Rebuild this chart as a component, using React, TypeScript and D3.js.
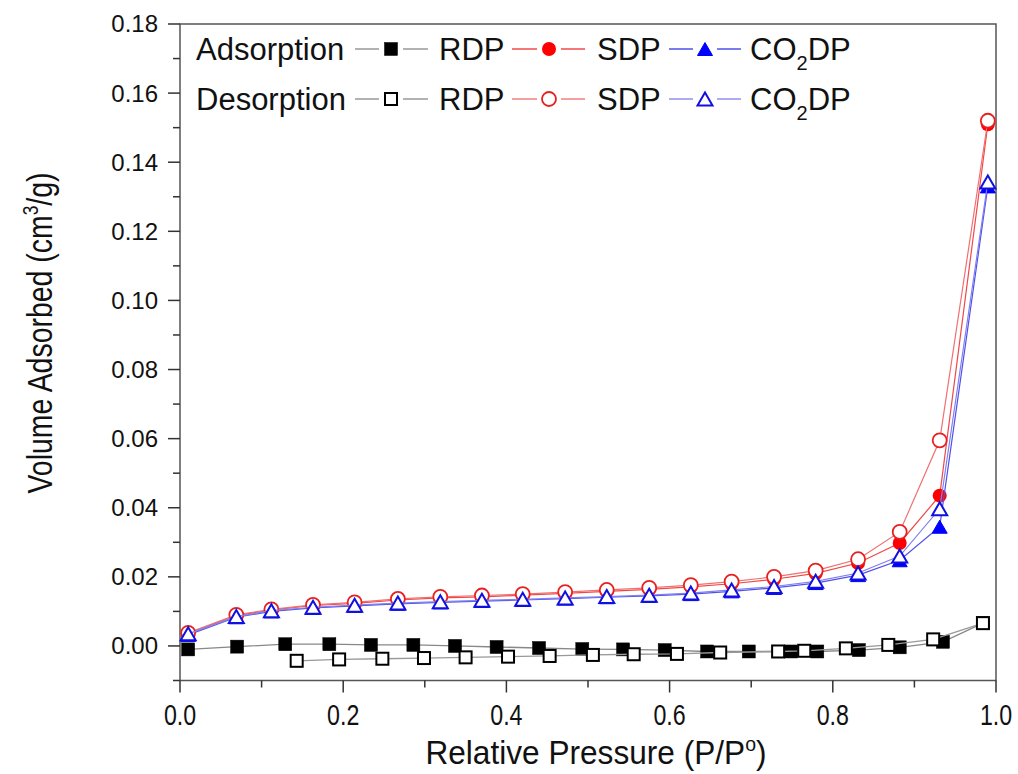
import React from 'react';
import * as d3 from 'd3';

// ---------- data ----------
const pSeries = [0.01, 0.069, 0.112, 0.163, 0.214, 0.267, 0.319, 0.37, 0.42, 0.472, 0.523, 0.575, 0.626, 0.676, 0.728, 0.779, 0.831, 0.882, 0.931, 0.99];
const sdpAds = [0.0035, 0.0088, 0.0104, 0.0117, 0.0123, 0.0133, 0.0139, 0.0142, 0.0147, 0.0152, 0.0158, 0.0164, 0.0171, 0.018, 0.0193, 0.021, 0.024, 0.0298, 0.0435, 0.151];
const sdpDes = [0.0038, 0.009, 0.0106, 0.0119, 0.0126, 0.0136, 0.0142, 0.0146, 0.015, 0.0156, 0.0162, 0.0168, 0.0176, 0.0186, 0.02, 0.0218, 0.0251, 0.033, 0.0595, 0.152];
const co2Ads = [0.0032, 0.0083, 0.01, 0.011, 0.0116, 0.0122, 0.0126, 0.013, 0.0133, 0.0137, 0.0141, 0.0145, 0.015, 0.0158, 0.0168, 0.0182, 0.0205, 0.0248, 0.0345, 0.133];
const co2Des = [0.0035, 0.0085, 0.0102, 0.0112, 0.0118, 0.0124, 0.0128, 0.0132, 0.0135, 0.0139, 0.0143, 0.0147, 0.0153, 0.0162, 0.0172, 0.0187, 0.0211, 0.026, 0.0397, 0.1343];

const rdpAdsP = [0.01, 0.07, 0.129, 0.183, 0.234, 0.286, 0.337, 0.388, 0.44, 0.493, 0.543, 0.594, 0.646, 0.697, 0.749, 0.781, 0.832, 0.882, 0.935, 0.984];
const rdpAds = [-0.001, -0.0002, 0.0005, 0.0005, 0.0003, 0.0003, 0.0, -0.0003, -0.0006, -0.0009, -0.001, -0.0012, -0.0016, -0.0016, -0.0016, -0.0016, -0.0012, -0.0004, 0.0012, 0.0066];
const rdpDesP = [0.143, 0.195, 0.248, 0.299, 0.35, 0.402, 0.453, 0.506, 0.556, 0.609, 0.662, 0.733, 0.765, 0.816, 0.868, 0.923, 0.984];
const rdpDes = [-0.0043, -0.0039, -0.0037, -0.0035, -0.0033, -0.0031, -0.0029, -0.0026, -0.0024, -0.0023, -0.0019, -0.0016, -0.0014, -0.0007, 0.0003, 0.0019, 0.0066];

const xTicks = [0, 0.2, 0.4, 0.6, 0.8, 1.0];
const xMinor = [0.1, 0.3, 0.5, 0.7, 0.9];
const yTicks = [0, 0.02, 0.04, 0.06, 0.08, 0.1, 0.12, 0.14, 0.16, 0.18];
const yMinor = [-0.01, 0.01, 0.03, 0.05, 0.07, 0.09, 0.11, 0.13, 0.15, 0.17];

// ---------- layout ----------
const W = 1018, H = 774;
const L = 180, R = 996, T = 24, B = 680.5;
const SANS = "'Liberation Sans', Arial, sans-serif";

const x = d3.scaleLinear().domain([0, 1]).range([L, R]);
const y = d3.scaleLinear().domain([-0.01, 0.18]).range([B, T]);

type Pt = [number, number];
const zip = (ps: number[], vs: number[]): Pt[] => ps.map((p, i) => [p, vs[i]]);
const line = d3.line<Pt>().x(d => x(d[0])).y(d => y(d[1]));

const RED = '#ff0000', BLUE = '#0000ff';

function Square({ cx, cy, filled }: { cx: number; cy: number; filled: boolean }) {
  const s = filled ? 13 : 12;
  return <rect x={cx - s / 2} y={cy - s / 2} width={s} height={s} fill={filled ? '#000' : '#fff'} stroke="#000" strokeWidth={filled ? 0.5 : 2} />;
}
function Circle({ cx, cy, filled }: { cx: number; cy: number; filled: boolean }) {
  return filled
    ? <circle cx={cx} cy={cy} r={7} fill={RED} />
    : <circle cx={cx} cy={cy} r={7} fill="#fff" stroke="#e82020" strokeWidth={1.8} />;
}
function Tri({ cx, cy, filled }: { cx: number; cy: number; filled: boolean }) {
  const w = 15, h = 13;
  const d = `M${cx},${cy - h / 2}L${cx + w / 2},${cy + h / 2}L${cx - w / 2},${cy + h / 2}Z`;
  return filled
    ? <path d={d} fill={BLUE} stroke={BLUE} strokeWidth={1} />
    : <path d={d} fill="#fff" stroke="#1010e0" strokeWidth={2} />;
}

function Series({ pts, color, width, Marker, filled }: { pts: Pt[]; color: string; width: number; Marker: any; filled: boolean }) {
  return (
    <g>
      <path d={line(pts) || ''} fill="none" stroke={color} strokeWidth={width} />
      {pts.map((d, i) => <Marker key={i} cx={x(d[0])} cy={y(d[1])} filled={filled} />)}
    </g>
  );
}

function LegendItem({ x0, x1, mx, cy, color, Marker, filled }: { x0: number; x1: number; mx: number; cy: number; color: string; Marker: any; filled: boolean }) {
  return (
    <g>
      <line x1={x0} x2={mx - 12} y1={cy} y2={cy} stroke={color} strokeWidth={1.5} />
      <line x1={mx + 12} x2={x1} y1={cy} y2={cy} stroke={color} strokeWidth={1.5} />
      <Marker cx={mx} cy={cy} filled={filled} />
    </g>
  );
}

// text squeezed horizontally (condensed face look-alike)
function SText({ tx, ty, sx, rot = 0, anchor = 'start', size, children }: any) {
  return (
    <g transform={`translate(${tx},${ty}) rotate(${rot}) scale(${sx},1)`}>
      <text x={0} y={0} textAnchor={anchor} fontFamily={SANS} fontSize={size} fill="#111">{children}</text>
    </g>
  );
}

export default function App() {
  const rows = [
    { label: 'Adsorption', cy: 49, filled: true, gray: '#999', red: '#f04848', blue: '#5050e8' },
    { label: 'Desorption', cy: 99, filled: false, gray: '#999', red: '#f08080', blue: '#9090f0' },
  ];
  const LS = 31;
  return (
    <svg width={W} height={H} style={{ display: 'block', position: 'absolute', left: 0, top: 0, background: '#fff' }}>
      {/* frame */}
      <rect x={L} y={T} width={R - L} height={B - T} fill="none" stroke="#555" strokeWidth={1.5} />
      {/* x ticks */}
      {xTicks.map(t => <line key={'xt' + t} x1={x(t)} x2={x(t)} y1={B} y2={B + 12} stroke="#333" strokeWidth={1.5} />)}
      {xMinor.map(t => <line key={'xm' + t} x1={x(t)} x2={x(t)} y1={B} y2={B + 7} stroke="#333" strokeWidth={1.5} />)}
      {xTicks.map(t => (
        <SText key={'xl' + t} tx={x(t)} ty={725} sx={0.8} anchor="middle" size={29}>{d3.format('.1f')(t)}</SText>
      ))}
      {/* y ticks */}
      {yTicks.map(t => <line key={'yt' + t} x1={L - 12} x2={L} y1={y(t)} y2={y(t)} stroke="#333" strokeWidth={1.5} />)}
      {yMinor.map(t => <line key={'ym' + t} x1={L - 7} x2={L} y1={y(t)} y2={y(t)} stroke="#333" strokeWidth={1.5} />)}
      {yTicks.map(t => (
        <text key={'yl' + t} x={158} y={y(t)} dy="0.35em" textAnchor="end" fontFamily={SANS} fontSize={24} fill="#111">{d3.format('.2f')(t)}</text>
      ))}
      {/* axis titles */}
      <SText tx={596} ty={764} sx={0.93} anchor="middle" size={34}>
        Relative Pressure (P/P<tspan dy={-13} fontSize={21}>o</tspan><tspan dy={13}>)</tspan>
      </SText>
      <SText tx={52} ty={333} rot={-90} sx={0.79} anchor="middle" size={36}>
        Volume Adsorbed (cm<tspan dy={-14} fontSize={22}>3</tspan><tspan dy={14}>/g)</tspan>
      </SText>

      {/* data */}
      <Series pts={zip(rdpAdsP, rdpAds)} color="#888" width={1.3} Marker={Square} filled={true} />
      <Series pts={zip(pSeries, sdpAds)} color="#f04848" width={1.2} Marker={Circle} filled={true} />
      <Series pts={zip(pSeries, co2Ads)} color="#5050e8" width={1.2} Marker={Tri} filled={true} />
      <Series pts={zip(rdpDesP, rdpDes)} color="#999" width={1.3} Marker={Square} filled={false} />
      <Series pts={zip(pSeries, sdpDes)} color="#f07070" width={1.2} Marker={Circle} filled={false} />
      <Series pts={zip(pSeries, co2Des)} color="#8080f0" width={1.2} Marker={Tri} filled={false} />

      {/* legend */}
      {rows.map(r => (
        <g key={r.label}>
          <text x={196} y={r.cy} dy="0.36em" fontFamily={SANS} fontSize={LS} fill="#111">{r.label}</text>
          <LegendItem x0={355} x1={428} mx={391} cy={r.cy} color={r.gray} Marker={Square} filled={r.filled} />
          <text x={439} y={r.cy} dy="0.36em" fontFamily={SANS} fontSize={LS} fill="#111">RDP</text>
          <LegendItem x0={512} x1={585} mx={549} cy={r.cy} color={r.red} Marker={Circle} filled={r.filled} />
          <text x={597} y={r.cy} dy="0.36em" fontFamily={SANS} fontSize={LS} fill="#111">SDP</text>
          <LegendItem x0={669} x1={741} mx={705} cy={r.cy} color={r.blue} Marker={Tri} filled={r.filled} />
          <text x={750} y={r.cy} dy="0.36em" fontFamily={SANS} fontSize={LS} fill="#111">CO<tspan dy={10} fontSize={20}>2</tspan><tspan dy={-10}>DP</tspan></text>
        </g>
      ))}
    </svg>
  );
}
